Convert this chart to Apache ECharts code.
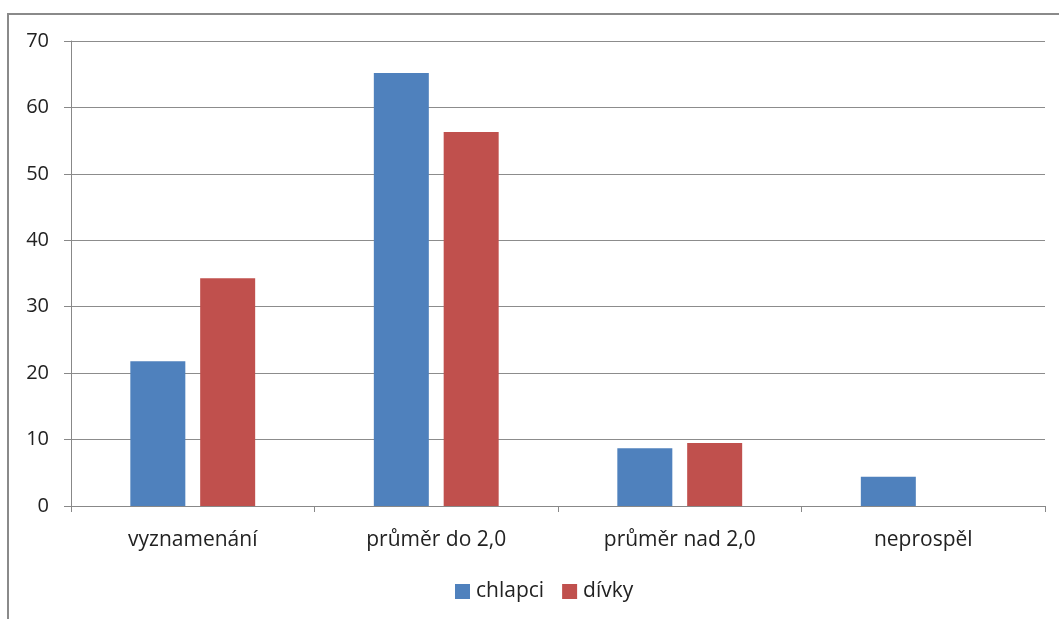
<!DOCTYPE html>
<html>
<head>
<meta charset="utf-8">
<script src="https://cdn.jsdelivr.net/npm/echarts@6/dist/echarts.min.js"></script>
<style>html,body{margin:0;padding:0;background:#fff;}#c{width:1059px;height:619px;}</style>
</head>
<body>
<div id="c"></div>
<script>
const categories = ['vyznamenání', 'průměr do 2,0', 'průměr nad 2,0', 'neprospěl'];
const chlapci = [21.8, 65.2, 8.7, 4.4];
const divky = [34.3, 56.3, 9.5, 0];
const seriesNames = ['chlapci', 'dívky'];

const chart = echarts.init(document.getElementById('c'));
const font = 'Open Sans';
chart.setOption({
  animation: false,
  backgroundColor: '#fff',
  graphic: [{
    type: 'rect',
    shape: { x: 8, y: 14, width: 1100, height: 700 },
    style: { fill: 'none', stroke: '#8a8a8a', lineWidth: 2 },
    silent: true
  }],
  grid: { left: 71, right: 14, top: 41, bottom: 113, containLabel: false },
  legend: {
    data: seriesNames,
    top: 576,
    left: 450,
    itemWidth: 15,
    itemHeight: 15,
    itemGap: 18,
    icon: 'rect',
    textStyle: { fontFamily: font, fontSize: 21, color: '#222', padding: [0, 0, 0, 1] }
  },
  xAxis: {
    type: 'category',
    data: categories,
    axisLine: { lineStyle: { color: '#888', width: 1 } },
    axisTick: { show: true, alignWithLabel: false, length: 6, lineStyle: { color: '#888' } },
    axisLabel: { fontFamily: font, fontSize: 21, color: '#222', margin: 24 }
  },
  yAxis: {
    type: 'value',
    min: 0, max: 70, interval: 10,
    axisLine: { show: true, lineStyle: { color: '#888', width: 1 } },
    axisTick: { show: true, length: 7, lineStyle: { color: '#888' } },
    axisLabel: { fontFamily: font, fontSize: 20, color: '#222', margin: 22 },
    splitLine: { lineStyle: { color: '#8c8c8c', width: 1 } }
  },
  series: [
    { name: seriesNames[0], type: 'bar', data: chlapci, barWidth: 55, barGap: '27%', itemStyle: { color: '#4f81bd' } },
    { name: seriesNames[1], type: 'bar', data: divky, barWidth: 55, itemStyle: { color: '#c0504d' } }
  ]
});
</script>
</body>
</html>
